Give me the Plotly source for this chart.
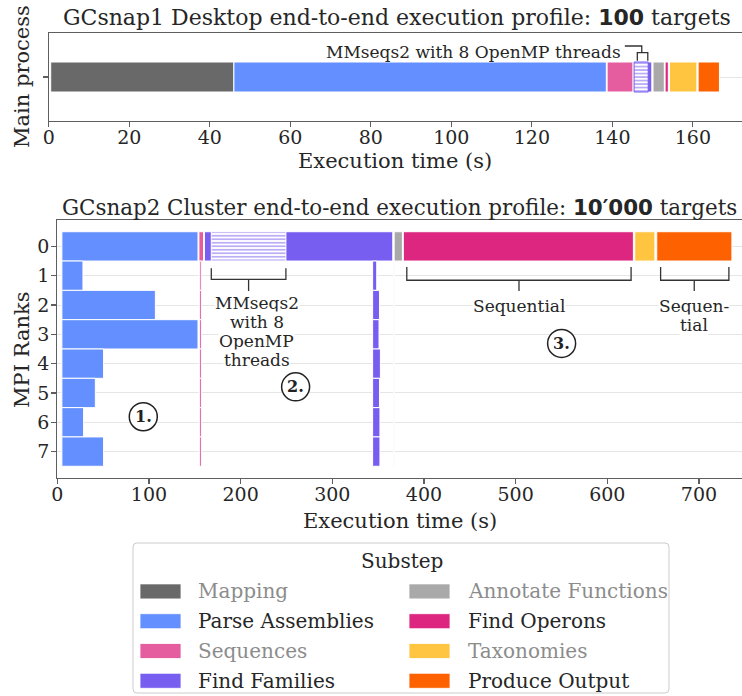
import plotly.graph_objects as go

W, H = 742, 696

# ---------------- data ----------------
steps = ["Mapping", "Parse Assemblies", "Sequences", "Find Families",
         "Annotate Functions", "Find Operons", "Taxonomies", "Produce Output"]
colors = ["#696969", "#648FFF", "#E55C9F", "#785EF0",
          "#A9A9A9", "#DC267F", "#FFC440", "#FE6100"]
muted = [True, False, True, False, True, False, True, False]

# GCsnap1 desktop, 100 targets (seconds)
desk_start = [0.5, 46.0, 138.7, 145.4, 150.1, 153.1, 154.2, 161.3]
desk_end = [46.0, 138.5, 145.1, 149.8, 152.9, 153.9, 161.0, 166.6]
desk_mmseqs_start = [145.4]
desk_mmseqs_end = [148.9]

# GCsnap2 cluster, 10'000 targets (seconds), per MPI rank
ranks = [0, 1, 2, 3, 4, 5, 6, 7]
clu_parse_start = [5.0, 5.0, 5.0, 5.0, 5.0, 5.0, 5.0, 5.0]
clu_parse_end = [153.5, 28.0, 107.0, 153.5, 50.5, 41.5, 28.7, 50.5]
clu_seq_start = [154.5, 155.0, 155.0, 155.0, 155.0, 155.0, 155.0, 155.0]
clu_seq_end = [159.5, 157.0, 157.2, 157.2, 157.2, 157.2, 157.2, 157.2]
clu_fam_start = [160.5, 344.0, 344.0, 344.0, 344.0, 344.0, 344.0, 344.0]
clu_fam_end = [366.0, 348.5, 351.5, 351.0, 352.5, 351.5, 352.0, 352.0]
clu_annot_start = [367.5, 367.0, 367.0, 367.0, 367.0, 367.0, 367.0, 367.0]
clu_annot_end = [376.5, 367.4, 367.4, 367.4, 367.4, 367.4, 367.4, 367.4]
clu_oper_ranks = [0]
clu_oper_start = [377.5]
clu_oper_end = [628.5]
clu_tax_ranks = [0]
clu_tax_start = [630.0]
clu_tax_end = [652.0]
clu_out_ranks = [0]
clu_out_start = [654.0]
clu_out_end = [736.0]
clu_mmseqs_ranks = [0]
clu_mmseqs_start = [168.0]
clu_mmseqs_end = [249.4]

desk_ticks = [0, 20, 40, 60, 80, 100, 120, 140, 160]
clu_ticks = [0, 100, 200, 300, 400, 500, 600, 700]

# ---------------- helpers ----------------
FONT = "DejaVu Serif"
INK = "#262626"
MUTED_INK = "#8c8c8c"
SPINE = "#5e5e5e"
GRID = "#e6e6e6"


def px(x):
    return x / W


def py(y):
    return 1 - y / H


fig = go.Figure()


def add_bars(y, start, end, color, xa, ya, width, line_color="white", pattern=None):
    dur = [e - s for s, e in zip(start, end)]
    marker = dict(color=color, line=dict(color=line_color, width=1))
    if pattern is not None:
        marker["pattern"] = pattern
    fig.add_trace(go.Bar(
        orientation="h", y=y, x=dur, base=start, width=width,
        marker=marker, xaxis=xa, yaxis=ya, showlegend=False,
        hoverinfo="skip"))


# top chart: one row
for i, name in enumerate(steps):
    add_bars([0], [desk_start[i]], [desk_end[i]], colors[i], "x", "y", 0.8)
add_bars([0], desk_mmseqs_start, desk_mmseqs_end, "white", "x", "y", 0.8,
         line_color=colors[3],
         pattern=dict(shape="-", fgcolor=colors[3], bgcolor="white",
                      size=3.5, solidity=0.5))

# bottom chart
add_bars(ranks, clu_parse_start, clu_parse_end, colors[1], "x2", "y2", 1.0)
add_bars(ranks, clu_seq_start, clu_seq_end, colors[2], "x2", "y2", 1.0)
add_bars(ranks, clu_fam_start, clu_fam_end, colors[3], "x2", "y2", 1.0)
add_bars(clu_mmseqs_ranks, clu_mmseqs_start, clu_mmseqs_end, "white", "x2", "y2", 1.0,
         line_color="white",
         pattern=dict(shape="-", fgcolor=colors[3], bgcolor="white",
                      size=3.5, solidity=0.5))
add_bars(ranks, clu_annot_start, clu_annot_end, colors[4], "x2", "y2", 1.0)
add_bars(clu_oper_ranks, clu_oper_start, clu_oper_end, colors[5], "x2", "y2", 1.0)
add_bars(clu_tax_ranks, clu_tax_start, clu_tax_end, colors[6], "x2", "y2", 1.0)
add_bars(clu_out_ranks, clu_out_start, clu_out_end, colors[7], "x2", "y2", 1.0)

axis_common = dict(
    showline=True, linecolor=SPINE, linewidth=1.2,
    ticks="outside", ticklen=5, tickwidth=1.2, tickcolor=SPINE,
    tickfont=dict(family=FONT, size=19, color=INK),
    zeroline=False, fixedrange=True, automargin=False,
)

fig.update_layout(
    width=W, height=H,
    margin=dict(l=0, r=0, t=0, b=0, pad=0, autoexpand=False),
    paper_bgcolor="white", plot_bgcolor="white",
    barmode="overlay",
    showlegend=False,
    font=dict(family=FONT, color=INK),
    xaxis=dict(domain=[px(48.7), 1], range=[0, 172.2], anchor="y",
               tickvals=desk_ticks, mirror=True, showgrid=False,
               ticklabelstandoff=-6, **axis_common),
    yaxis=dict(domain=[py(120.7), py(33.3)], range=[-1.165, 1.165], anchor="x",
               tickvals=[0], ticktext=[""], showgrid=True, gridcolor=GRID,
               gridwidth=1, **axis_common),
    xaxis2=dict(domain=[px(57.3), 1], range=[0, 747], anchor="y2",
                tickvals=clu_ticks, mirror=True, showgrid=False,
                ticklabelstandoff=-6, **axis_common),
    yaxis2=dict(domain=[py(478), py(220)], range=[7.9, -0.9], anchor="x2",
                tickvals=ranks, showgrid=True, gridcolor=GRID, gridwidth=1,
                ticklabelstandoff=-2, **axis_common),
)

shapes = []
annos = []


def text(x, y, s, size, xref="paper", yref="paper", xanchor="center",
         yanchor="middle", color=INK, **kw):
    if xref == "paper":
        x = px(x)
    if yref == "paper":
        y = py(y)
    annos.append(dict(xref=xref, yref=yref, x=x, y=y, text=s, showarrow=False,
                      xanchor=xanchor, yanchor=yanchor,
                      font=dict(size=size, family=FONT, color=color), **kw))


# titles and axis titles
text(397, 17, "GCsnap1 Desktop end-to-end execution profile: "
     "<span style=\"font-family:'DejaVu Sans'\"><b>100</b></span> targets", 22)
text(399, 207, "GCsnap2 Cluster end-to-end execution profile: "
     "<span style=\"font-family:'DejaVu Sans'\"><b>10\u2032000</b></span> targets", 21.4)
text(395, 161, "Execution time (s)", 21)
text(400, 521, "Execution time (s)", 21)
text(22, 77, "Main process", 21, textangle=-90)
text(22, 350, "MPI Ranks", 21, textangle=-90)

BR = dict(color="#333333", width=1.3)

# top-chart MMseqs2 callout
text(142.6, 0.667, "MMseqs2 with 8 OpenMP threads", 17, xref="x", yref="y",
     xanchor="right")
shapes.append(dict(type="path", xref="x", yref="y", line=BR,
                   path="M143.1,0.827 L147.3,0.827 L147.3,0.648"))
shapes.append(dict(type="path", xref="x", yref="y", line=BR,
                   path="M146.2,0.435 L146.2,0.648 L148.8,0.648 L148.8,0.435"))


def bracket(x0, x1, xm, ytop, ybar, ystem):
    return dict(type="path", xref="x2", yref="y2", line=BR,
                path=f"M{x0},{ytop} L{x0},{ybar} L{x1},{ybar} L{x1},{ytop} "
                     f"M{xm},{ybar} L{xm},{ystem}")


shapes.append(bracket(168.0, 249.4, 208.7, 0.747, 1.122, 1.52))
shapes.append(bracket(381.3, 626.0, 503.7, 0.70, 1.155, 1.52))
shapes.append(bracket(658.2, 732.7, 694.9, 0.70, 1.155, 1.52))

# multi-line callout labels (one annotation per line, matplotlib-like spacing)
LINE = 19.0 / 29.32  # line spacing in rank units
for k, s in enumerate(["MMseqs2", "with 8", "OpenMP", "threads"]):
    text(217.8, 1.92 + k * LINE, s, 17, xref="x2", yref="y2",
         bgcolor="white", borderpad=0)
text(503.7, 2.03, "Sequential", 17, xref="x2", yref="y2", bgcolor="white", borderpad=0)
for k, s in enumerate(["Sequen-", "tial"]):
    text(694.9, 2.03 + k * LINE, s, 17, xref="x2", yref="y2", bgcolor="white",
         borderpad=0)

for label, cx, cy in [("1.", 93.8, 5.81), ("2.", 260.0, 4.79), ("3.", 550.2, 3.31)]:
    shapes.append(dict(type="circle", xref="x2", yref="y2",
                       xsizemode="pixel", ysizemode="pixel",
                       xanchor=cx, yanchor=cy, x0=-14, x1=14, y0=-14, y1=14,
                       line=dict(color="#222222", width=1.5), fillcolor="white"))
    text(cx, cy, f"<b>{label}</b>", 16, xref="x2", yref="y2", color="#222222")

# ---------------- legend (manual) ----------------
lx0, lx1, ly0, ly1, r = 133, 669, 543, 693, 4


def rpath(x0, y0, x1, y1, r):
    pts = [
        f"M{px(x0 + r)},{py(y0)}", f"L{px(x1 - r)},{py(y0)}",
        f"Q{px(x1)},{py(y0)} {px(x1)},{py(y0 + r)}",
        f"L{px(x1)},{py(y1 - r)}",
        f"Q{px(x1)},{py(y1)} {px(x1 - r)},{py(y1)}",
        f"L{px(x0 + r)},{py(y1)}",
        f"Q{px(x0)},{py(y1)} {px(x0)},{py(y1 - r)}",
        f"L{px(x0)},{py(y0 + r)}",
        f"Q{px(x0)},{py(y0)} {px(x0 + r)},{py(y0)} Z",
    ]
    return " ".join(pts)


shapes.append(dict(type="path", xref="paper", yref="paper",
                   path=rpath(lx0, ly0, lx1, ly1, r),
                   line=dict(color="#cccccc", width=1), fillcolor="white"))
text(402, 561, "Substep", 20)
col_sw = [140, 409]
col_tx = [196, 466]
for i, name in enumerate(steps):
    col, row = i // 4, i % 4
    cy = 591.4 + row * 29.8
    shapes.append(dict(type="rect", xref="paper", yref="paper",
                       x0=px(col_sw[col]), x1=px(col_sw[col] + 41),
                       y0=py(cy - 7.5), y1=py(cy + 7.5),
                       fillcolor=colors[i], line=dict(color="white", width=0.8)))
    text(col_tx[col], cy, name, 20, xanchor="left",
         color=MUTED_INK if muted[i] else INK)

fig.update_layout(shapes=shapes, annotations=annos)
fig.write_html("out.html",
               config={"displayModeBar": False, "staticPlot": True},
               post_script="document.body.style.margin='0';"
                           "document.body.style.padding='0';")
